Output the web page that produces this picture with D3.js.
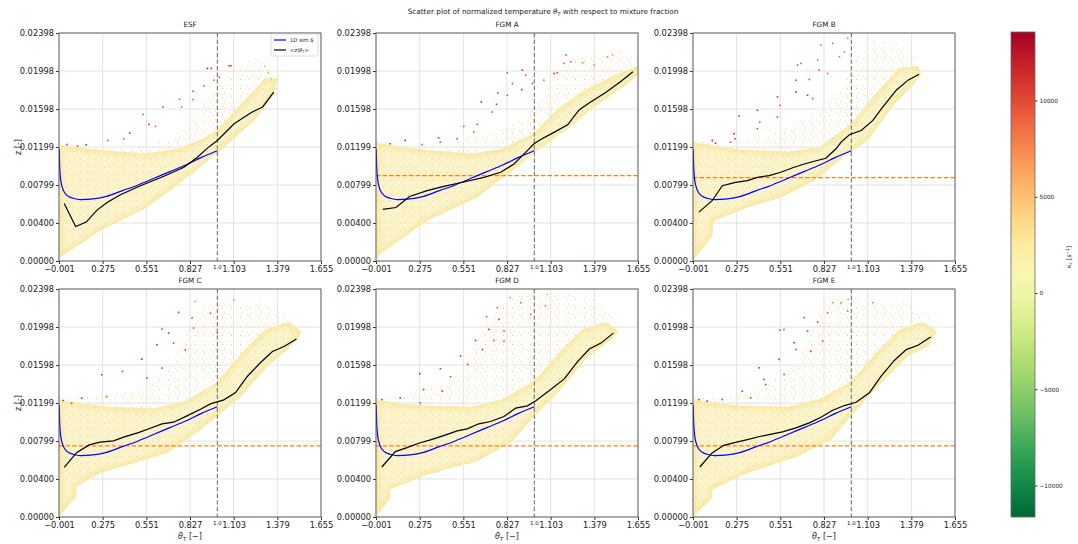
<!DOCTYPE html>
<html><head><meta charset="utf-8">
<script src="https://cdn.jsdelivr.net/npm/d3@7"></script>
<style>
body{margin:0;background:#fff;}
svg{font-family:"DejaVu Sans",sans-serif;}
</style></head>
<body><svg id="c" width="1078" height="544"></svg>
<script>
// ---------- data ----------
const xTicks = [-0.001, 0.275, 0.551, 0.827, 1.103, 1.379, 1.655];
const yTicks = [0, 0.004, 0.00799, 0.01199, 0.01598, 0.01998, 0.02398];
const yTickLabels = ["0.00000","0.00400","0.00799","0.01199","0.01598","0.01998","0.02398"];
const cbTicks = [-10000, -5000, 0, 5000, 10000];
const cbDomain = [-11640, 13560];

const blueTheta = [0, 0.003, 0.008, 0.017, 0.038, 0.07, 0.1, 0.14, 0.2, 0.3, 0.4, 0.5, 0.6, 0.7, 0.8, 0.9, 1.0];
const blueZ = [0.0118, 0.0100, 0.0088, 0.0079, 0.0071, 0.0067, 0.00655, 0.00645, 0.0065, 0.0068, 0.0074, 0.0080, 0.0087, 0.0094, 0.0101, 0.0109, 0.0116];

const esfBlack = [[0.032,0.00605],[0.104,0.00363],[0.171,0.00409],[0.239,0.00535],[0.303,0.00616],[0.387,0.00697],[0.514,0.00792],[0.662,0.00891],[0.789,0.00986],[0.874,0.01091],[0.937,0.01187],[1.0,0.01268],[1.106,0.01444],[1.212,0.0156],[1.286,0.0162],[1.356,0.01775]];
const fgmABlack = [[0.042,0.00542],[0.125,0.00563],[0.211,0.00679],[0.322,0.0074],[0.427,0.00785],[0.554,0.00831],[0.681,0.0088],[0.787,0.00933],[0.871,0.0102],[0.935,0.01127],[0.998,0.01233],[1.04,0.01278],[1.115,0.01345],[1.21,0.01433],[1.284,0.01592],[1.358,0.01676],[1.453,0.01775],[1.548,0.01891],[1.623,0.0199]];
const fgmBBlack = [[0.036,0.00514],[0.12,0.00634],[0.184,0.00792],[0.268,0.00827],[0.343,0.00845],[0.406,0.0088],[0.48,0.00898],[0.554,0.00933],[0.638,0.00986],[0.702,0.0102],[0.765,0.01049],[0.839,0.01081],[0.903,0.0118],[0.935,0.0125],[0.987,0.01328],[1.062,0.01373],[1.136,0.01479],[1.199,0.0162],[1.284,0.01796],[1.358,0.01902],[1.428,0.01965]];
const fgmCBlack = [[0.032,0.00523],[0.11,0.00677],[0.19,0.00758],[0.258,0.00787],[0.343,0.008],[0.417,0.00846],[0.501,0.00888],[0.576,0.00934],[0.65,0.0098],[0.723,0.00997],[0.808,0.01064],[0.893,0.01134],[0.956,0.0119],[1.041,0.01232],[1.115,0.01309],[1.189,0.01478],[1.273,0.01625],[1.348,0.01741],[1.421,0.01794],[1.5,0.01871]];
const fgmDBlack = [[0.036,0.00526],[0.121,0.00688],[0.195,0.0073],[0.268,0.00776],[0.343,0.00811],[0.427,0.00856],[0.512,0.00906],[0.575,0.00927],[0.649,0.0098],[0.723,0.01004],[0.808,0.01057],[0.882,0.01145],[0.956,0.01169],[1.009,0.01222],[1.093,0.01327],[1.189,0.01453],[1.273,0.01635],[1.347,0.01766],[1.421,0.01829],[1.499,0.01934]];
const fgmEBlack = [[0.042,0.00526],[0.12,0.00674],[0.194,0.00754],[0.268,0.00785],[0.343,0.00814],[0.427,0.00849],[0.501,0.00874],[0.565,0.00895],[0.649,0.00937],[0.734,0.0099],[0.808,0.01049],[0.882,0.01123],[0.956,0.01172],[1.03,0.01207],[1.114,0.01306],[1.188,0.01481],[1.273,0.01649],[1.347,0.01761],[1.421,0.01806],[1.501,0.01894]];

const orangeLevels = [null, 0.00898, 0.00877, 0.00748, 0.00748, 0.00748];

// cloud envelopes (outer sparse region) and dense cores, as [theta, z] vertices
const esfOuter = [[0,0],[0,0.0122],[0.25,0.0118],[0.5,0.0119],[0.7,0.0128],[0.85,0.015],[1.0,0.0185],[1.15,0.0205],[1.25,0.0215],[1.34,0.0212],[1.39,0.0185],[1.35,0.01725],[1.233,0.01479],[1.0,0.01134],[0.81,0.0088],[0.556,0.00563],[0.26,0.00317],[0,0.0003]];
const esfDense = [[0,0],[0,0.0122],[0.3,0.0116],[0.55,0.0113],[0.75,0.0118],[0.9,0.0128],[1.0,0.0138],[1.15,0.0165],[1.3,0.0192],[1.38,0.0192],[1.35,0.01725],[1.233,0.01479],[1.0,0.01134],[0.81,0.0088],[0.556,0.00563],[0.26,0.00317],[0,0.0003]];
const fgmAOuter = [[0,0],[0,0.0126],[0.216,0.0124],[0.427,0.01233],[0.66,0.0132],[0.787,0.01373],[0.893,0.01479],[1.0,0.0162],[1.083,0.01866],[1.168,0.02025],[1.231,0.02165],[1.379,0.02183],[1.548,0.022],[1.654,0.02148],[1.654,0.01954],[1.59,0.01866],[1.379,0.0162],[1.168,0.01338],[1.0,0.01144],[0.914,0.0102],[0.639,0.00669],[0.322,0.00423],[0.025,0.0007]];
const fgmADense = [[0,0],[0,0.0124],[0.3,0.0117],[0.6,0.0113],[0.8,0.0118],[1.0,0.0135],[1.15,0.016],[1.3,0.0178],[1.5,0.0195],[1.654,0.0205],[1.654,0.01954],[1.59,0.01866],[1.379,0.0162],[1.168,0.01338],[1.0,0.01144],[0.914,0.0102],[0.639,0.00669],[0.322,0.00423],[0.025,0.0007]];
const fgmBOuter = [[0,0],[0,0.0127],[0.237,0.01233],[0.554,0.01373],[0.808,0.01585],[0.935,0.01831],[1.019,0.02113],[1.146,0.02324],[1.294,0.02289],[1.4,0.02183],[1.442,0.0204],[1.442,0.01954],[1.379,0.01831],[1.273,0.01655],[1.104,0.01268],[0.977,0.01127],[0.765,0.00845],[0.554,0.00669],[0.343,0.00563],[0.13,0.0042],[0.12,0.0026]];
const fgmBDense = [[0,0],[0,0.0125],[0.3,0.0117],[0.6,0.0115],[0.8,0.012],[1.0,0.0145],[1.15,0.0175],[1.3,0.0203],[1.42,0.0205],[1.442,0.01954],[1.379,0.01831],[1.273,0.01655],[1.104,0.01268],[0.977,0.01127],[0.765,0.00845],[0.554,0.00669],[0.343,0.00563],[0.13,0.0042],[0.12,0.0026]];
const fgmCOuter = [[0,0],[0,0.0125],[0.258,0.01267],[0.512,0.01338],[0.681,0.01548],[0.893,0.0225],[0.977,0.02285],[1.21,0.02285],[1.358,0.02215],[1.485,0.02075],[1.54,0.0195],[1.517,0.01899],[1.443,0.01759],[1.316,0.01583],[1.146,0.01267],[1.0,0.01056],[0.893,0.00916],[0.681,0.00671],[0.47,0.00566],[0.258,0.0046],[0.11,0.0032],[0.11,0.0022]];
const fgmCDense = [[0,0],[0,0.0123],[0.3,0.0116],[0.6,0.0114],[0.8,0.0122],[1.0,0.0142],[1.15,0.0172],[1.3,0.0197],[1.45,0.0205],[1.53,0.0195],[1.517,0.01899],[1.443,0.01759],[1.316,0.01583],[1.146,0.01267],[1.0,0.01056],[0.893,0.00916],[0.681,0.00671],[0.47,0.00566],[0.258,0.0046],[0.11,0.0032],[0.11,0.0022]];
const fgmDOuter = [[0,0],[0,0.01253],[0.152,0.01253],[0.322,0.01341],[0.533,0.01517],[0.7,0.0205],[0.829,0.02323],[1.0,0.0236],[1.168,0.0236],[1.379,0.02289],[1.516,0.02078],[1.527,0.01938],[1.464,0.01833],[1.337,0.01692],[1.168,0.01341],[1.0,0.0106],[0.85,0.0078],[0.639,0.00586],[0.322,0.00445],[0.089,0.0029],[0.089,0.002]];
const fgmDDense = [[0,0],[0,0.0123],[0.3,0.0117],[0.6,0.0116],[0.8,0.0124],[1.0,0.0143],[1.15,0.0172],[1.3,0.0197],[1.45,0.0205],[1.52,0.0197],[1.527,0.01938],[1.464,0.01833],[1.337,0.01692],[1.168,0.01341],[1.0,0.0106],[0.85,0.0078],[0.639,0.00586],[0.322,0.00445],[0.089,0.0029],[0.089,0.002]];
const fgmEOuter = [[0,0],[0,0.01253],[0.237,0.0127],[0.448,0.01376],[0.66,0.01622],[0.829,0.02289],[1.019,0.02289],[1.146,0.02289],[1.358,0.02254],[1.527,0.02078],[1.537,0.01938],[1.485,0.01797],[1.358,0.01692],[1.188,0.01411],[0.998,0.0106],[0.871,0.00814],[0.66,0.00638],[0.343,0.00463],[0.12,0.0029],[0.12,0.002]];
const fgmEDense = [[0,0],[0,0.0123],[0.3,0.0117],[0.6,0.0116],[0.8,0.0124],[1.0,0.0143],[1.15,0.0172],[1.3,0.0197],[1.45,0.0205],[1.53,0.0197],[1.537,0.01938],[1.485,0.01797],[1.358,0.01692],[1.188,0.01411],[0.998,0.0106],[0.871,0.00814],[0.66,0.00638],[0.343,0.00463],[0.12,0.0029],[0.12,0.002]];

// scattered high-|kappa| points: [theta, z, kappa]
const esfPts = [[0.049,0.01225,11000],[0.116,0.01208,10500],[0.171,0.01222,11000],[0.307,0.01268,10000],[0.408,0.01285,9000],[0.446,0.01345,11000],[0.531,0.01542,9500],[0.567,0.01437,10500],[0.609,0.01416,9000],[0.656,0.0162,10000],[0.761,0.01701,9500],[0.774,0.0162,9000],[0.846,0.01785,10000],[0.846,0.01698,9000],[0.916,0.01841,9500],[0.937,0.02025,12000],[0.962,0.02025,11500],[0.979,0.01902,9000],[1.011,0.0193,9500],[1.074,0.02053,10000],[1.085,0.02053,10500],[1.3,0.0205,-4000],[1.32,0.0198,-4500],[1.34,0.0192,-3500]];
const fgmAPts = [[0.089,0.01233,11500],[0.184,0.01268,12000],[0.29,0.01225,10000],[0.395,0.01296,11000],[0.406,0.0125,9500],[0.512,0.01285,10000],[0.554,0.01416,9000],[0.617,0.01356,9500],[0.639,0.01437,10500],[0.664,0.01673,11000],[0.734,0.01567,10000],[0.761,0.01648,11000],[0.77,0.01768,10500],[0.829,0.01743,9500],[0.861,0.01866,10000],[0.92,0.01803,11500],[0.924,0.02007,11000],[0.945,0.01954,9000],[0.988,0.01866,10000],[1.06,0.01902,9000],[1.125,0.01972,11000],[1.145,0.01979,10500],[1.187,0.02078,9000],[1.23,0.02095,8500],[1.305,0.02084,8000],[1.378,0.0206,8000],[1.462,0.02148,7500],[1.494,0.02166,7000],[1.2,0.02166,-9000],[0.829,0.01979,-8000]];
const fgmBPts = [[0.121,0.01268,11500],[0.141,0.01239,11000],[0.237,0.0125,10000],[0.258,0.01338,11000],[0.265,0.01285,10500],[0.406,0.01585,11000],[0.406,0.01391,10500],[0.421,0.01461,10000],[0.533,0.01726,11500],[0.533,0.01514,10000],[0.55,0.01637,9500],[0.649,0.01902,10500],[0.649,0.01778,11000],[0.723,0.01743,11500],[0.734,0.01909,10000],[0.755,0.01708,9500],[0.787,0.02113,9000],[0.797,0.02007,10500],[0.808,0.02271,8500],[0.85,0.01972,9000],[0.882,0.02289,9000],[0.924,0.02148,8500],[0.956,0.02201,8000],[0.977,0.02342,8000],[0.66,0.0206,-8500],[0.681,0.02078,-8000],[0.29,0.01525,-9000]];
const fgmCPts = [[0.025,0.01225,11000],[0.079,0.01197,10500],[0.142,0.0125,11500],[0.301,0.01267,10000],[0.4,0.0153,11000],[0.523,0.0166,12000],[0.555,0.01461,10000],[0.618,0.01811,11000],[0.65,0.01566,10500],[0.692,0.01934,11500],[0.723,0.01829,10000],[0.755,0.02152,11000],[0.798,0.01759,10500],[0.84,0.02093,10000],[0.85,0.01987,9500],[0.956,0.02145,9000],[0.999,0.01934,8500],[0.269,0.01496,-9500],[0.65,0.01977,-9000],[0.861,0.02268,-5000],[1.104,0.02285,-5000]];
const fgmDPts = [[0.036,0.01235,11000],[0.152,0.01253,11500],[0.279,0.012,10000],[0.3,0.01341,11000],[0.406,0.01559,10500],[0.417,0.01324,11000],[0.47,0.01474,10000],[0.533,0.01692,11000],[0.579,0.01604,10500],[0.628,0.01857,11000],[0.671,0.01762,10500],[0.698,0.02106,10000],[0.713,0.01973,11500],[0.744,0.01857,10000],[0.766,0.02201,9500],[0.776,0.02078,10500],[0.808,0.01956,10000],[0.808,0.0185,9500],[0.914,0.02254,9000],[0.977,0.02131,9000],[1.07,0.02219,8000],[0.275,0.01506,-11000],[0.846,0.02306,-5000],[1.082,0.02341,-5000]];
const fgmEPts = [[0.036,0.01235,11500],[0.089,0.01218,11000],[0.184,0.01235,11000],[0.311,0.01323,10500],[0.364,0.01253,10000],[0.416,0.01569,11500],[0.448,0.01446,11000],[0.459,0.01393,10500],[0.543,0.01657,11000],[0.575,0.01499,10000],[0.638,0.01833,11500],[0.649,0.01762,10500],[0.723,0.01955,11000],[0.702,0.02096,10000],[0.744,0.01744,10500],[0.787,0.0205,10000],[0.819,0.0185,9500],[0.85,0.02149,9500],[0.935,0.02254,9000],[0.977,0.02165,9000],[1.136,0.02254,8000],[0.548,0.01965,-9000],[0.574,0.01973,-8500],[0.882,0.02254,-6000],[0.981,0.02289,-5000]];

const panelNames = ["ESF","FGM A","FGM B","FGM C","FGM D","FGM E"];
const panelBlack = [esfBlack, fgmABlack, fgmBBlack, fgmCBlack, fgmDBlack, fgmEBlack];
const panelOuter = [esfOuter, fgmAOuter, fgmBOuter, fgmCOuter, fgmDOuter, fgmEOuter];
const panelDense = [esfDense, fgmADense, fgmBDense, fgmCDense, fgmDDense, fgmEDense];
const panelPts = [esfPts, fgmAPts, fgmBPts, fgmCPts, fgmDPts, fgmEPts];

// ---------- layout ----------
const svg = d3.select("#c");
const colLeft = [59, 376, 693], rowTop = [33, 289];
const W = 262, H = 228;
const color = k => d3.interpolateRdYlGn((cbDomain[1]-k)/(cbDomain[1]-cbDomain[0]));

const defs = svg.append("defs");
// speckle textures imitating the dense point clouds
const sp = defs.append("pattern").attr("id","sparse").attr("patternUnits","userSpaceOnUse").attr("width",9).attr("height",9);
[[1,1,"#f8c583"],[5.5,2.2,"#f4e8a6"],[3,5.5,"#f8d89a"],[7.5,6.8,"#f9cf90"],[1.2,7.8,"#f3eaaa"]]
  .forEach(d => sp.append("rect").attr("x",d[0]).attr("y",d[1]).attr("width",1).attr("height",1).attr("fill",d[2]));
const dp = defs.append("pattern").attr("id","dense").attr("patternUnits","userSpaceOnUse").attr("width",7).attr("height",7);
dp.append("rect").attr("width",7).attr("height",7).attr("fill","#fcf6d2");
[[0.5,0.5,"#f6e39a"],[3.5,1.2,"#f9d596"],[5.6,3.4,"#f3e89c"],[1.8,4,"#f8dd98"],[4.2,5.6,"#f7e7a0"],[6.2,0.3,"#f2ec9e"],[0.3,6,"#f8cf8c"]]
  .forEach(d => dp.append("rect").attr("x",d[0]).attr("y",d[1]).attr("width",1.1).attr("height",1.1).attr("fill",d[2]));
defs.append("filter").attr("id","soft").attr("x","-10%").attr("y","-10%").attr("width","120%").attr("height","120%")
  .append("feGaussianBlur").attr("stdDeviation",2.2);

svg.append("text").attr("x",543).attr("y",14).attr("text-anchor","middle").attr("font-size",7.3).attr("fill","#222")
  .html('Scatter plot of normalized temperature <tspan font-style="italic">θ</tspan><tspan font-size="5" font-style="italic" dy="1.5">T</tspan><tspan dy="-1.5"> with respect to mixture fraction</tspan>');

panelNames.forEach((name, i) => {
  const col = i % 3, row = Math.floor(i/3);
  const x0 = colLeft[col], y0 = rowTop[row];
  const x = d3.scaleLinear().domain([xTicks[0], xTicks[6]]).range([0, W]);
  const y = d3.scaleLinear().domain([yTicks[0], yTicks[6]]).range([H, 0]);
  const g = svg.append("g").attr("transform",`translate(${x0},${y0})`);
  g.append("clipPath").attr("id","clip"+i).append("rect").attr("width",W).attr("height",H);
  // grid
  g.append("g").selectAll("line").data(xTicks).join("line")
    .attr("x1",d=>x(d)).attr("x2",d=>x(d)).attr("y1",0).attr("y2",H).attr("stroke","#dcdcdc").attr("stroke-width",0.8);
  g.append("g").selectAll("line").data(yTicks).join("line")
    .attr("y1",d=>y(d)).attr("y2",d=>y(d)).attr("x1",0).attr("x2",W).attr("stroke","#dcdcdc").attr("stroke-width",0.8);
  const inner = g.append("g").attr("clip-path",`url(#clip${i})`);
  const poly = d3.line().x(d=>x(d[0])).y(d=>y(d[1])).curve(d3.curveLinearClosed);
  inner.append("path").attr("d",poly(panelOuter[i])).attr("fill","url(#sparse)");
  inner.append("path").attr("d",poly(panelDense[i])).attr("fill","url(#dense)");
  // soft denser rim of the cloud (blurred stroke clipped to the cloud itself)
  defs.append("clipPath").attr("id","dclip"+i).append("path").attr("d",poly(panelDense[i]));
  inner.append("g").attr("clip-path",`url(#dclip${i})`)
    .append("path").attr("d",poly(panelDense[i])).attr("fill","none").attr("filter","url(#soft)")
    .attr("stroke","#f3e38c").attr("stroke-opacity",0.5).attr("stroke-width",8);
  inner.append("g").selectAll("rect").data(panelPts[i]).join("rect")
    .attr("x",d=>x(d[0])-0.8).attr("y",d=>y(d[1])-0.8).attr("width",1.6).attr("height",1.6).attr("fill",d=>color(d[2]));
  // vertical dashed line at theta=1
  inner.append("line").attr("x1",x(1)).attr("x2",x(1)).attr("y1",0).attr("y2",H)
    .attr("stroke","#7f7f7f").attr("stroke-width",1.2).attr("stroke-dasharray","4.4,2.2");
  if (orangeLevels[i] !== null) {
    inner.append("line").attr("x1",0).attr("x2",W).attr("y1",y(orangeLevels[i])).attr("y2",y(orangeLevels[i]))
      .attr("stroke","#ff7f0e").attr("stroke-width",1.4).attr("stroke-dasharray","4.4,2.2");
  }
  const blue = blueTheta.map((t,k)=>[t, blueZ[k]]);
  inner.append("path").attr("d", d3.line().x(d=>x(d[0])).y(d=>y(d[1])).curve(d3.curveMonotoneX)(blue))
    .attr("fill","none").attr("stroke","#0000ff").attr("stroke-width",1.2);
  inner.append("path").attr("d", d3.line().x(d=>x(d[0])).y(d=>y(d[1]))(panelBlack[i]))
    .attr("fill","none").attr("stroke","#000").attr("stroke-width",1.2);
  // axes
  const xa = g.append("g").attr("transform",`translate(0,${H})`)
    .call(d3.axisBottom(x).tickValues(xTicks).tickFormat(d3.format(".3f")).tickSize(3).tickPadding(2));
  const ya = g.append("g").call(d3.axisLeft(y).tickValues(yTicks).tickFormat((d,k)=>yTickLabels[k]).tickSize(3).tickPadding(2));
  [xa, ya].forEach(a => {
    a.select(".domain").remove();
    a.selectAll("line").attr("stroke","#333");
    a.selectAll("text").attr("font-size",8.3).attr("font-family","DejaVu Sans").attr("fill","#222");
  });
  xa.selectAll("text").text(d => d < 0 ? "\u2212" + Math.abs(d).toFixed(3) : d.toFixed(3));
  g.append("rect").attr("width",W).attr("height",H).attr("fill","none").attr("stroke","#555").attr("stroke-width",0.9);
  // 1.0 mark
  g.append("text").attr("x",x(1)).attr("y",H+8).attr("text-anchor","middle").attr("font-size",5.5).attr("fill","#222").text("1.0");
  g.append("text").attr("x",W/2).attr("y",-6).attr("text-anchor","middle").attr("font-size",7.2).attr("fill","#222").text(name);
  if (col === 0) {
    g.append("text").attr("transform",`translate(-38,${H/2}) rotate(-90)`).attr("text-anchor","middle")
      .attr("font-size",8).attr("fill","#222").text("z [-]");
  }
  if (row === 1) {
    g.append("text").attr("x",W/2).attr("y",H+22).attr("text-anchor","middle").attr("font-size",8).attr("fill","#222")
      .html('<tspan font-style="italic">θ</tspan><tspan font-size="5.5" dy="1.5">T</tspan><tspan dy="-1.5"> [−]</tspan>');
  }
  if (i === 0) {
    const lg = g.append("g").attr("transform",`translate(${W-50},1)`);
    lg.append("rect").attr("width",47).attr("height",22).attr("rx",1.5).attr("fill","#fff").attr("stroke","#ccc").attr("stroke-width",0.7);
    lg.append("line").attr("x1",3).attr("x2",15).attr("y1",6).attr("y2",6).attr("stroke","#0000ff").attr("stroke-width",1.2);
    lg.append("line").attr("x1",3).attr("x2",15).attr("y1",16).attr("y2",16).attr("stroke","#000").attr("stroke-width",1.2);
    lg.append("text").attr("x",19).attr("y",8).attr("font-size",5.3).attr("fill","#222").text("1D sim.$");
    lg.append("text").attr("x",19).attr("y",18).attr("font-size",5.3).attr("fill","#222")
      .html('&lt;z|<tspan font-style="italic">θ</tspan><tspan font-size="3.8" dy="1">T</tspan><tspan dy="-1">&gt;</tspan>');
  }
});

// colorbar
const cbX = 1011, cbY = 32, cbW = 24, cbH = 485;
const cy = d3.scaleLinear().domain(cbDomain).range([cbY+cbH, cbY]);
const grad = defs.append("linearGradient").attr("id","cbg").attr("x1",0).attr("x2",0).attr("y1",1).attr("y2",0);
d3.range(0,1.0001,0.05).forEach(t => grad.append("stop").attr("offset",t).attr("stop-color",d3.interpolateRdYlGn(1-t)));
svg.append("rect").attr("x",cbX).attr("y",cbY).attr("width",cbW).attr("height",cbH).attr("fill","url(#cbg)").attr("stroke","#666").attr("stroke-width",0.8);
const ca = svg.append("g").attr("transform",`translate(${cbX+cbW},0)`)
  .call(d3.axisRight(cy).tickValues(cbTicks).tickFormat(d => d < 0 ? "\u2212" + Math.abs(d) : d).tickSize(2.5).tickPadding(2));
ca.select(".domain").remove();
ca.selectAll("line").attr("stroke","#333");
ca.selectAll("text").attr("font-size",5.8).attr("font-family","DejaVu Sans").attr("fill","#222");
svg.append("text").attr("transform","translate(1071,257) rotate(-90)").attr("text-anchor","middle").attr("font-size",6.2).attr("fill","#222")
  .html('<tspan font-style="italic">κ</tspan><tspan font-size="4.3" dy="1.2">c</tspan><tspan dy="-1.2"> [</tspan><tspan font-style="italic">s</tspan><tspan font-size="4.3" dy="-2.5">−1</tspan><tspan dy="2.5">]</tspan>');
</script></body></html>
